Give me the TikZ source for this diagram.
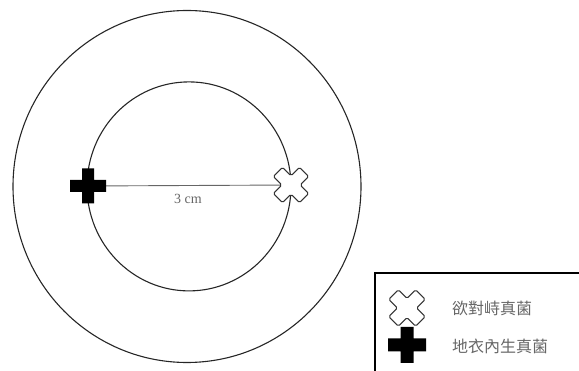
\documentclass[tikz,border=0pt]{standalone}
\usepackage{fontspec}
\usetikzlibrary{shapes.geometric}
\setmainfont{Liberation Serif}
\newfontfamily\cjk{Noto Sans CJK TC}
\begin{document}
\begin{tikzpicture}[x=1pt,y=-1pt,
  ring/.style={draw=black!85,line width=1.1pt},
  markbox/.style={inner sep=0pt,minimum size=36pt},
  link/.style={draw=black!60,line width=0.9pt},
  frame/.style={draw=black,line width=1.6pt},
  lbl/.style={text=black!60,inner sep=0pt},
  plusshape/.style={fill=black},
  crossshape/.style={draw=black!80,fill=white,line width=1pt,rounded corners=1.5pt}]
\useasboundingbox (0,0) rectangle (579,371);
% circles
\node[ring,ellipse,minimum width=348pt,minimum height=352pt,inner sep=0pt] (outer) at (187,186.5) {};
\node[ring,ellipse,minimum width=204pt,minimum height=209pt,inner sep=0pt] (inner) at (189,186.4) {};
% marks
\node[markbox] (plus) at (88,186) {};
\node[markbox] (cross) at (291,185) {};
\draw[link] (plus.center) -- (cross.center);
\begin{scope}[shift={(plus.center)}]
\fill[plusshape] (-18,-6)--(-6,-6)--(-6,-17.5)--(6,-17.5)--(6,-6)--(18,-6)--(18,6)--(6,6)--(6,17.5)--(-6,17.5)--(-6,6)--(-18,6)--cycle;
\end{scope}
\begin{scope}[shift={(cross.center)},rotate=45]
\draw[crossshape] (-18.5,-6.5)--(-6.5,-6.5)--(-6.5,-18.5)--(6.5,-18.5)--(6.5,-6.5)--(18.5,-6.5)--(18.5,6.5)--(6.5,6.5)--(6.5,18.5)--(-6.5,18.5)--(-6.5,6.5)--(-18.5,6.5)--cycle;
\end{scope}
\node[lbl,font=\fontsize{14}{14}\selectfont] (dist) at (188,199) {3 cm};
% legend
\coordinate (lbl) at (375,371);
\coordinate (ltl) at (375,273);
\coordinate (ltr) at (579,273);
\draw[frame] (lbl) -- (ltl) -- (ltr);
\node[markbox] (lcross) at (407,308) {};
\node[markbox] (lplus) at (407,345) {};
\begin{scope}[shift={(lcross.center)},rotate=45]
\draw[crossshape] (-19,-6.8)--(-6.8,-6.8)--(-6.8,-19)--(6.8,-19)--(6.8,-6.8)--(19,-6.8)--(19,6.8)--(6.8,6.8)--(6.8,19)--(-6.8,19)--(-6.8,6.8)--(-19,6.8)--cycle;
\end{scope}
\begin{scope}[shift={(lplus.center)}]
\fill[plusshape] (-19,-6.5)--(-6.5,-6.5)--(-6.5,-18)--(6.5,-18)--(6.5,-6.5)--(19,-6.5)--(19,6.5)--(6.5,6.5)--(6.5,18)--(-6.5,18)--(-6.5,6.5)--(-19,6.5)--cycle;
\end{scope}
\node[lbl,anchor=west,font=\cjk\fontsize{16}{16}\selectfont] (t1) at (452,308) {欲對峙真菌};
\node[lbl,anchor=west,font=\cjk\fontsize{16}{16}\selectfont] (t2) at (452,346) {地衣內生真菌};
\end{tikzpicture}
\end{document}
